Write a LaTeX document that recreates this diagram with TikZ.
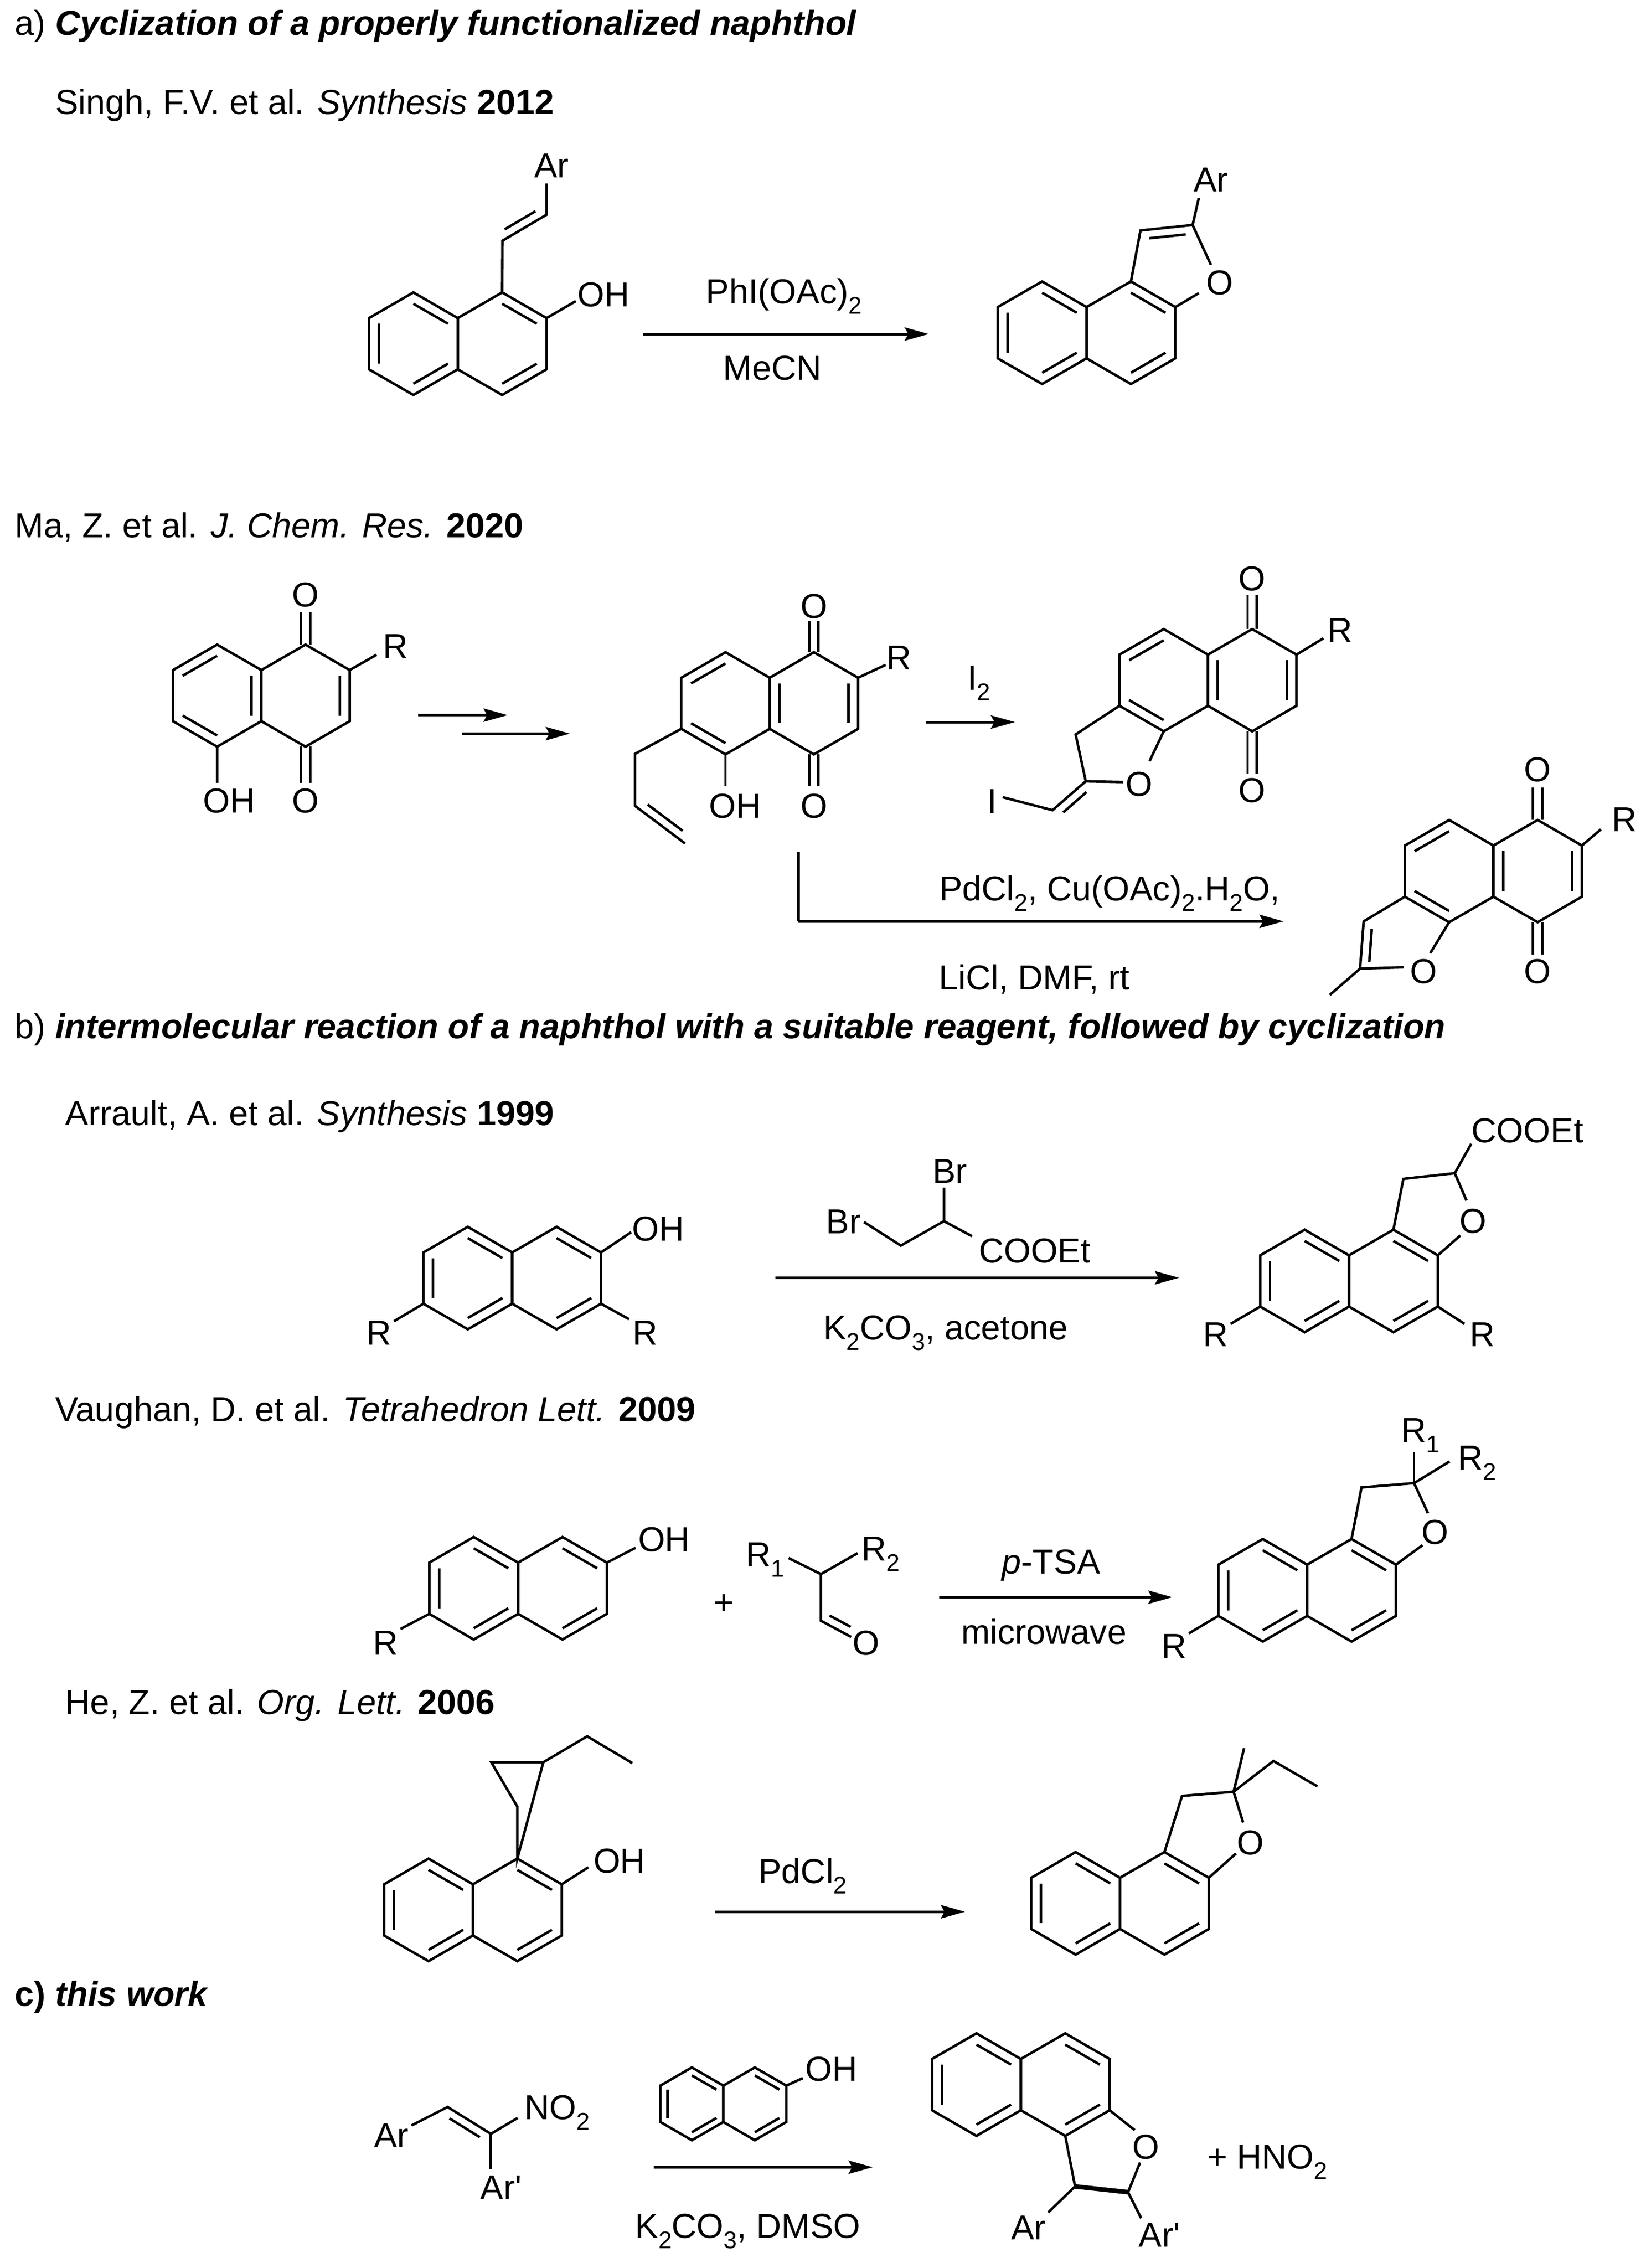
\documentclass[tikz,border=0pt]{standalone}
\usepackage{fontspec}
\setmainfont{Liberation Sans}
\usetikzlibrary{calc,arrows.meta}
\newcommand\chemfont{\fontsize{14.4}{17}\selectfont}
\newcommand\sbs[1]{\raisebox{-0.3em}{\fontsize{10}{10}\selectfont #1}}
\tikzset{
 bond/.style={line width=1.05pt},
 rxn/.style={line width=1.1pt,-{Stealth[length=10pt,width=5.5pt,inset=1.5pt]}},
 lab/.style={inner sep=0pt,font=\chemfont},
 hdr/.style={inner sep=0pt,font=\chemfont,anchor=west}}
\newcommand\ring[4]{%
 \draw[bond] (#1,#2) +(30:#3) -- +(90:#3) -- +(150:#3) -- +(210:#3) -- +(270:#3) -- +(330:#3) -- cycle;
 \foreach \e in {#4} {\pgfmathsetmacro\aa{30+60*\e}\pgfmathsetmacro\bb{90+60*\e}\pgfmathsetmacro\rr{0.78*#3}
   \draw[bond] (#1,#2) +(\aa:\rr) -- +(\bb:\rr);}}
\newcommand\dblL[2]{\draw[bond] ($(#1)!0.15!(#2)!3.6pt!90:(#2)$) -- ($(#2)!0.15!(#1)!3.6pt!-90:(#1)$);}
\newcommand\dblR[2]{\draw[bond] ($(#1)!0.15!(#2)!3.6pt!-90:(#2)$) -- ($(#2)!0.15!(#1)!3.6pt!90:(#1)$);}
\newcommand\cdbl[2]{\draw[bond] ($(#1)!1.9pt!90:(#2)$) -- ($(#2)!1.9pt!-90:(#1)$);
 \draw[bond] ($(#1)!1.9pt!-90:(#2)$) -- ($(#2)!1.9pt!90:(#1)$);}
\begin{document}
\begin{tikzpicture}[x=0.6pt,y=-0.6pt]
\useasboundingbox (0,0) rectangle (1140,1570.5);
% headers
\node[hdr] (ha) at (10,18) {a) \textbf{\textit{Cyclization of a properly functionalized naphthol}}};
\node[hdr] (hs) at (38,73) {Singh, F.V. et al. \textit{Synthesis} \textbf{2012}};
\node[hdr] (hm) at (10,365) {Ma, Z. et al. \textit{J. Chem. Res.} \textbf{2020}};
\node[hdr] (hb) at (10,713) {b) \textbf{\textit{intermolecular reaction of a naphthol with a suitable reagent, followed by cyclization}}};
\node[hdr] (hr) at (45,773) {Arrault, A. et al. \textit{Synthesis} \textbf{1999}};
\node[hdr] (hv) at (38,978) {Vaughan, D. et al. \textit{Tetrahedron Lett.} \textbf{2009}};
\node[hdr] (hh) at (45,1181) {He, Z. et al. \textit{Org. Lett.} \textbf{2006}};
\node[hdr] (hc) at (10,1383) {\textbf{c) \textit{this work}}};

% ===== Singh reactant
\ring{286.3}{238}{35.5}{0,2,4}
\ring{347.8}{238}{35.5}{0,4}
\draw[bond] (347.8,202.5) -- (348,166.7) -- (378.5,148.7) -- (378.5,127);
\dblL{348,166.7}{378.5,148.7}
\node[lab] (s1ar) at (382,114.6) {Ar};
\draw[bond] (378.55,220.25) -- (398.8,208.5);
\node[lab] (s1oh) at (418,204) {OH};
\draw[rxn] (445.6,231.3) -- (643.3,231.3);
\node[lab] (s1r) at (543,205) {PhI(OAc)\sbs{2}};
\node[lab] (s1s) at (535,255) {MeCN};
% Singh product
\ring{721.8}{230.4}{35.5}{0,2,4}
\ring{783.3}{230.4}{35.5}{0,4}
\draw[bond] (783.3,194.9) -- (789.9,159.6) -- (826,155.8) -- (830.3,137.1);
\dblR{789.9,159.6}{826,155.8}
\draw[bond] (826,155.8) -- (838.7,183.4);
\draw[bond] (830.3,203) -- (814.05,212.65);
\node[lab] (s2ar) at (838.8,124.6) {Ar};
\node[lab] (s2o) at (845,195.7) {O};

% ===== Ma 2a
\ring{150.4}{481.7}{35.35}{1,3,5}
\ring{211.6}{481.7}{35.35}{5}
\cdbl{211.6,446.35}{211.6,423.8}
\node[lab] (m1o1) at (211.6,412) {O};
\cdbl{211.6,517.05}{211.6,542}
\node[lab] (m1o2) at (211.6,554.4) {O};
\draw[bond] (150.4,517.05) -- (150.4,542);
\node[lab] (m1oh) at (158.8,554.4) {OH};
\draw[bond] (242.2,464) -- (260.8,453.4);
\node[lab] (m1r) at (274,447.6) {R};
\draw[rxn] (289.6,495.2) -- (351.6,495.2);
\draw[rxn] (319.7,508) -- (394.7,508);
% 2b
\ring{502.5}{487}{35.35}{1,3}
\ring{563.7}{487}{35.35}{2,5}
\cdbl{563.7,451.65}{563.7,430}
\node[lab] (m2o1) at (563.7,420) {O};
\cdbl{563.7,522.35}{563.7,544.4}
\node[lab] (m2o2) at (563.7,558) {O};
\draw[bond] (594.3,469.3) -- (613.4,460.4);
\node[lab] (m2r) at (622.6,455.6) {R};
\draw[bond] (502.5,522.35) -- (502.5,544.4);
\node[lab] (m2oh) at (509.2,558) {OH};
\draw[bond] (471.9,504.7) -- (439.8,522) -- (439.8,558) -- (474.4,584);
\dblL{439.8,558}{474.4,584}
\draw[rxn] (641,500) -- (703,500);
\node[lab] (m2i) at (678,473) {I\sbs{2}};
% 2c
\ring{806}{471}{35.4}{1,3}
\ring{867.3}{471}{35.4}{2,5}
\cdbl{867.3,435.6}{867.3,412}
\node[lab] (m3o1) at (867.3,400.6) {O};
\cdbl{867.3,506.4}{867.3,535.7}
\node[lab] (m3o2) at (867.3,547.3) {O};
\draw[bond] (897.95,453.3) -- (916.6,442);
\node[lab] (m3r) at (928.2,436.3) {R};
\draw[bond] (775.35,488.7) -- (745,508.6) -- (752,541) -- (777.7,541.5);
\draw[bond] (806,506.4) -- (796.2,527);
\node[lab] (m3o) at (789,543) {O};
\draw[bond] (752,541) -- (729,561) -- (694.4,552);
\dblL{752,541}{729,561}
\node[lab] (m3i) at (687,555) {I};
% lower path
\draw[bond] (553,590) -- (553,638);
\draw[rxn] (553,638) -- (889,638);
\node[lab] (m4r1) at (768.5,618.6) {PdCl\sbs{2}, Cu(OAc)\sbs{2}.H\sbs{2}O,};
\node[lab] (m4r2) at (716.5,678) {LiCl, DMF, rt};
% 2d
\ring{1003.7}{603.2}{35.4}{1,3}
\ring{1065}{603.2}{35.4}{2,5}
\cdbl{1065,567.8}{1065,545.4}
\node[lab] (m4o1) at (1065,532.8) {O};
\cdbl{1065,638.6}{1065,661}
\node[lab] (m4o2) at (1065,672.6) {O};
\draw[bond] (1095.65,585.5) -- (1108.8,574.3);
\node[lab] (m4r) at (1125,567.5) {R};
\draw[bond] (973.05,620.9) -- (944.5,638) -- (942,670.7) -- (972.2,669.8);
\dblL{944.5,638}{942,670.7}
\draw[bond] (942,670.7) -- (921,689);
\draw[bond] (990.6,660) -- (1003.7,638.6);
\node[lab] (m4o) at (986,672.6) {O};

% ===== Arrault
\ring{324}{885}{35.5}{0,2,4}
\ring{385.5}{885}{35.5}{0,4}
\draw[bond] (416.25,867.25) -- (437.2,853.2);
\node[lab] (a1oh) at (455.9,851) {OH};
\draw[bond] (416.25,902.75) -- (435.7,913.5);
\node[lab] (a1r2) at (447,923) {R};
\draw[bond] (293.25,902.75) -- (272.9,914.9);
\node[lab] (a1r1) at (262.4,923) {R};
\node[lab] (a2br1) at (584.3,846) {Br};
\draw[bond] (598.4,846.2) -- (623.9,862.5) -- (653.8,845.6) -- (653.8,822.4);
\draw[bond] (653.8,845.6) -- (673.2,856);
\node[lab] (a2br2) at (658,811) {Br};
\node[lab] (a2co) at (716.6,866) {COOEt};
\draw[rxn] (537,884.8) -- (816.6,884.8);
\node[lab] (a2k) at (655,923) {K\sbs{2}CO\sbs{3}, acetone};
\ring{903.6}{887}{35.5}{0,2,4}
\ring{965.1}{887}{35.5}{0,4}
\draw[bond] (965.1,851.5) -- (972,816.3) -- (1007.6,812.4) -- (1015.7,831.3);
\draw[bond] (1007.6,812.4) -- (1019,792);
\draw[bond] (1011.4,855.5) -- (995.85,869.25);
\node[lab] (a3o) at (1020.1,845.5) {O};
\node[lab] (a3co) at (1058,783) {COOEt};
\draw[bond] (872.85,904.75) -- (852.4,916.7);
\node[lab] (a3r1) at (842,924) {R};
\draw[bond] (995.85,904.75) -- (1014.3,916.7);
\node[lab] (a3r2) at (1026.6,924) {R};

% ===== Vaughan
\ring{328.1}{1099.8}{35.5}{0,2,4}
\ring{389.6}{1099.8}{35.5}{0,4}
\draw[bond] (420.35,1082.05) -- (440.2,1071.8);
\node[lab] (v1oh) at (460,1066) {OH};
\draw[bond] (297.35,1117.55) -- (277.4,1128);
\node[lab] (v1r) at (267,1137.7) {R};
\node[lab] (vplus) at (501.4,1111) {+};
\node[lab] (v2r1) at (530,1080) {R\sbs{1}};
\draw[bond] (546.2,1078.9) -- (568.6,1090) -- (594,1075.5);
\draw[bond] (568.6,1090) -- (568.6,1122.3) -- (589.5,1133.5);
\dblL{568.6,1122.3}{589.5,1133.5}
\node[lab] (v2r2) at (610,1076) {R\sbs{2}};
\node[lab] (v2o) at (600,1137.6) {O};
\draw[rxn] (650.7,1106) -- (812,1106);
\node[lab] (v2p) at (728,1084) {\textit{p}-TSA};
\node[lab] (v2m) at (723,1130) {microwave};
\ring{874.6}{1101.2}{35.5}{0,2,4}
\ring{936.1}{1101.2}{35.5}{0,4}
\draw[bond] (936.1,1065.7) -- (943,1030) -- (979.4,1027) -- (989,1047.8);
\draw[bond] (985.2,1070) -- (966.85,1083.45);
\node[lab] (v3o) at (994,1061) {O};
\draw[bond] (979.4,1027) -- (979.4,1005.8);
\draw[bond] (979.4,1027) -- (1004,1012);
\node[lab] (v3r1) at (984,994) {R\sbs{1}};
\node[lab] (v3r2) at (1023,1013) {R\sbs{2}};
\draw[bond] (843.85,1118.95) -- (823.5,1131);
\node[lab] (v3r) at (813,1140) {R};

% ===== He
\ring{296.8}{1322.5}{35.5}{0,2,4}
\ring{358.3}{1322.5}{35.5}{0,4}
\draw[bond] (358.3,1287) -- (358.3,1251) -- (340.3,1220.3) -- (376.3,1220.3) -- cycle;
\draw[bond] (376.3,1220.3) -- (406.7,1202.3) -- (438,1220.9);
\draw[bond] (389.05,1304.75) -- (407.5,1293);
\node[lab] (h1oh) at (429,1288.5) {OH};
\draw[rxn] (495.3,1323.8) -- (668.4,1323.8);
\node[lab] (h1pd) at (556,1299) {PdCl\sbs{2}};
\ring{745}{1318}{35.5}{0,2,4}
\ring{806.5}{1318}{35.5}{0,4}
\draw[bond] (806.5,1282.5) -- (818.7,1243.6) -- (854.4,1240.7) -- (861,1262);
\draw[bond] (856,1283.5) -- (837.25,1300.25);
\node[lab] (h2o) at (866,1276) {O};
\draw[bond] (854.4,1240.7) -- (861.7,1210.5);
\draw[bond] (854.4,1240.7) -- (882,1219.4) -- (912.5,1237);

% ===== this work
\node[lab] (c1ar) at (271,1478.8) {Ar};
\draw[bond] (285,1471.8) -- (310,1459) -- (340,1477.6) -- (358.5,1466.6);
\dblR{310,1459}{340,1477.6}
\draw[bond] (340,1477.6) -- (340,1502);
\node[lab] (c1no) at (386,1463) {NO\sbs{2}};
\node[lab] (c1ar2) at (347,1514.8) {Ar\textquotesingle};
\ring{479.2}{1456.8}{25.2}{0,2,4}
\ring{522.8}{1456.8}{25.2}{0,4}
\draw[bond] (544.6,1444.2) -- (556,1439);
\node[lab] (c2oh) at (575.7,1432.6) {OH};
\draw[rxn] (452.8,1500.7) -- (604.4,1500.7);
\node[lab] (c2k) at (518,1545) {K\sbs{2}CO\sbs{3}, DMSO};
\ring{676.3}{1443.5}{35.5}{0,2,4}
\ring{737.8}{1443.5}{35.5}{0,4}
\draw[bond] (768.55,1461.25) -- (785.9,1475);
\node[lab] (c3o) at (793.6,1486.9) {O};
\draw[bond] (789.6,1497.5) -- (781.3,1518);
\draw[bond] (737.8,1479) -- (744.6,1514);
\draw[line width=1.9pt] (744.6,1514) -- (781.3,1518);
\draw[bond] (744.6,1514) -- (726,1532);
\draw[bond] (781.3,1518) -- (790.4,1536);
\node[lab] (c3ar) at (712.4,1542.5) {Ar};
\node[lab] (c3ar2) at (803,1547.6) {Ar\textquotesingle};
\node[lab] (c3h) at (877.7,1497) {+ HNO\sbs{2}};
\end{tikzpicture}
\end{document}
